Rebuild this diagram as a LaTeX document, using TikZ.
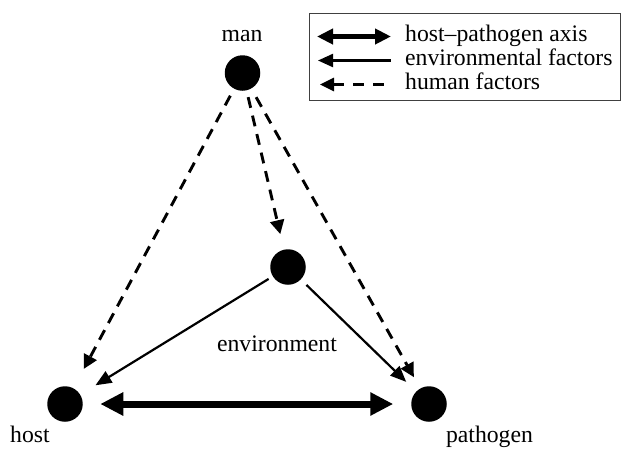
\documentclass[tikz,border=0pt]{standalone}
\usepackage{fontspec}
\setmainfont{Liberation Serif}
\usetikzlibrary{arrows.meta}
\begin{document}
\begin{tikzpicture}[x=1pt,y=-1pt,
  dot/.style={circle,fill=black,inner sep=0pt,outer sep=0pt,minimum size=35.5pt},
  lbl/.style={inner sep=0pt,font=\fontsize{23.7}{26}\selectfont},
  axis/.style={line width=7pt,{Triangle[length=23pt,width=22pt]}-{Triangle[length=23pt,width=22pt]}},
  envf/.style={line width=2.2pt,-{Triangle[length=16pt,width=13pt]}},
  humf/.style={line width=2.9pt,dash pattern=on 11pt off 8pt,-{Triangle[length=14pt,width=14pt]}},
  laxis/.style={line width=5pt,{Triangle[length=16pt,width=15pt]}-{Triangle[length=16pt,width=15pt]}},
  lenv/.style={line width=2.2pt,{Triangle[length=15pt,width=13pt]}-},
  lhum/.style={line width=2.8pt,dash pattern=on 11pt off 9pt,{Triangle[length=14pt,width=13pt]}-}
]
\useasboundingbox (0,0) rectangle (622,448);
% nodes
\node[dot] (man) at (242.5,73) {};
\node[dot] (env) at (288,267) {};
\node[dot] (host) at (65,404) {};
\node[dot] (path) at (429,404) {};
% labels
\node[lbl,anchor=base] (manl) at (242,41) {man};
\node[lbl,anchor=base] (envl) at (277,351.5) {environment};
\node[lbl,anchor=base] (hostl) at (30,442) {host};
\node[lbl,anchor=base] (pathl) at (489.5,442) {pathogen};
% connectors
\draw[axis,shorten <=17.5pt,shorten >=18pt] (host) -- (path);
\draw[envf,shorten <=5pt,shorten >=18pt] (env) -- (host);
\draw[envf,shorten <=8pt,shorten >=14pt] (env) -- (path);
\draw[humf,shorten <=7pt,shorten >=16pt] (man) -- (env);
\draw[humf,shorten <=8pt,shorten >=22pt] (man) -- (host);
\draw[humf,shorten <=10pt,shorten >=13pt] (man) -- (path);
% legend
\node[draw=black!75,line width=1.2pt,minimum width=311pt,minimum height=87pt,anchor=north west,inner sep=0pt] (legend) at (309,13) {};
\coordinate (a1) at (317,36.5);
\coordinate (b1) at (391,36.5);
\coordinate (a2) at (318,60.5);
\coordinate (b2) at (391,60.5);
\coordinate (a3) at (320,84.5);
\coordinate (b3) at (391,84.5);
\draw[laxis] (a1) -- (b1);
\draw[lenv] (a2) -- (b2);
\draw[lhum] (a3) -- (b3);
\node[lbl,anchor=base west] (t1) at (405,41.5) {host–pathogen axis};
\node[lbl,anchor=base west] (t2) at (405,65.5) {environmental factors};
\node[lbl,anchor=base west] (t3) at (405,89.5) {human factors};
\end{tikzpicture}
\end{document}
